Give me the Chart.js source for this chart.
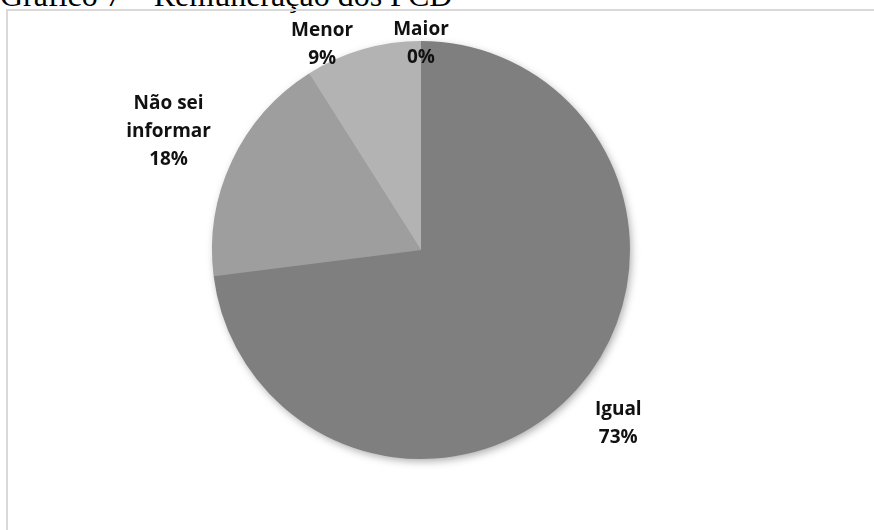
<!DOCTYPE html>
<html lang="pt">
<head>
  <meta charset="UTF-8" />
  <title>Gráfico 7 – Remuneração dos PCD</title>
  <script src="https://cdn.jsdelivr.net/npm/chart.js"></script>
  <style>
    html, body { margin: 0; padding: 0; background: #fff; overflow: hidden; }
    #wrap { position: relative; width: 874px; height: 530px; }
    #title { position: absolute; left: 0; top: -21px; font: 32px/32px "Liberation Serif", "Times New Roman", serif; color: #000; white-space: nowrap; }
    #frame { position: absolute; left: 6px; top: 9px; right: -10px; bottom: -10px; border-left: 2px solid #d9d9d9; border-top: 2px solid #d9d9d9; }
    canvas { position: absolute; left: 0; top: 0; }
  </style>
</head>
<body>
<div id="wrap">
  <div id="title">Gráfico 7 – Remuneração dos PCD</div>
  <div id="frame"></div>
  <canvas id="pie" width="874" height="530"></canvas>
</div>

<script>
const categories = [['Igual'], ['Não sei', 'informar'], ['Menor'], ['Maior']];
const values = [73, 18, 9, 0];
const percentLabels = ['73%', '18%', '9%', '0%'];
const sliceColors = ['#7f7f7f', '#9e9e9e', '#b3b3b3', '#cccccc'];

// pie shadow drawn once behind the slices
const pieShadow = {
  id: 'pieShadow',
  beforeDatasetsDraw(chart) {
    const arc = chart.getDatasetMeta(0).data[0];
    if (!arc) return;
    const ctx = chart.ctx;
    ctx.save();
    ctx.shadowColor = 'rgba(0,0,0,0.35)';
    ctx.shadowBlur = 8;
    ctx.shadowOffsetX = 2;
    ctx.shadowOffsetY = 3;
    ctx.fillStyle = '#888';
    ctx.beginPath();
    ctx.arc(arc.x, arc.y, arc.outerRadius - 1, 0, Math.PI * 2);
    ctx.fill();
    ctx.restore();
  }
};

// outside labels: category + percent, placed along the slice's mid angle
const outsideLabels = {
  id: 'outsideLabels',
  afterDatasetsDraw(chart, args, opts) {
    const ctx = chart.ctx;
    const meta = chart.getDatasetMeta(0);
    ctx.save();
    ctx.font = 'bold 19px "Open Sans", sans-serif';
    ctx.fillStyle = '#111';
    ctx.textAlign = 'center';
    ctx.textBaseline = 'middle';
    meta.data.forEach((arc, i) => {
      const mid = (arc.startAngle + arc.endAngle) / 2 + (opts.shift[i] || 0) * Math.PI / 180;
      const d = arc.outerRadius + opts.extra[i];
      const x = arc.x + Math.cos(mid) * d;
      const y = arc.y + Math.sin(mid) * d;
      const lines = categories[i].concat([percentLabels[i]]);
      const lh = 28;
      const top = y - (lines.length - 1) * lh / 2;
      lines.forEach((t, k) => ctx.fillText(t, x, top + k * lh));
    });
    ctx.restore();
  }
};

new Chart(document.getElementById('pie'), {
  type: 'pie',
  data: {
    labels: categories.map(c => c.join(' ')),
    datasets: [{
      data: values,
      backgroundColor: sliceColors,
      borderWidth: 0
    }]
  },
  options: {
    responsive: false,
    animation: false,
    layout: { padding: { top: 41, bottom: 71, left: 212, right: 244 } },
    plugins: {
      legend: { display: false },
      tooltip: { enabled: false },
      outsideLabels: { extra: [54, 70, 19, -3], shift: [0, 0, -9.5, 0] }
    }
  },
  plugins: [pieShadow, outsideLabels]
});
</script>
</body>
</html>
